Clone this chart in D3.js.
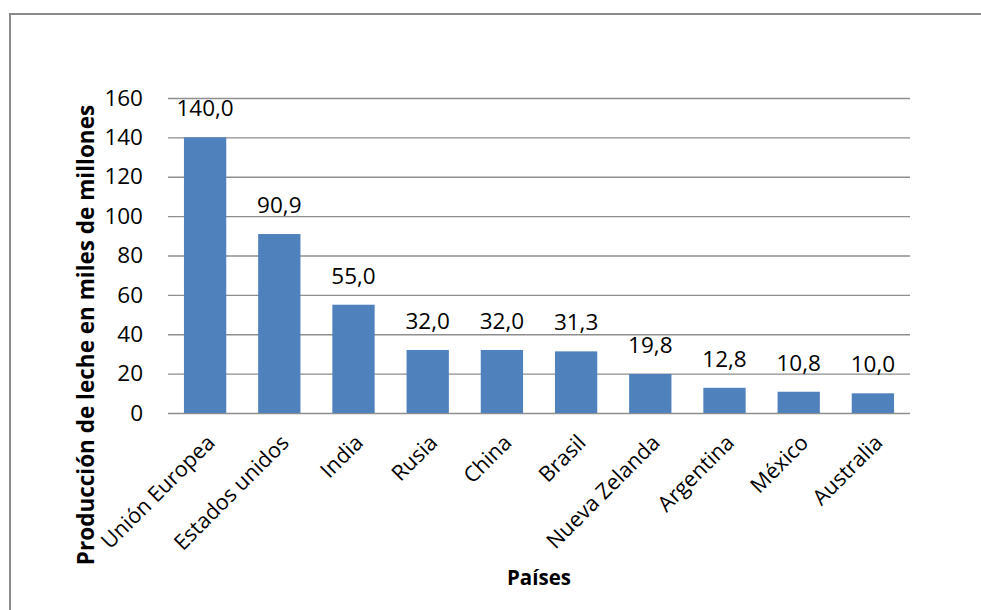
<!DOCTYPE html>
<html>
<head>
<meta charset="utf-8">
<script src="https://cdn.jsdelivr.net/npm/d3@7"></script>
<style>
  html, body { margin: 0; padding: 0; background: #fff; }
  svg { display: block; }
  text { font-family: "Open Sans", sans-serif; fill: #000; }
</style>
</head>
<body>
<script>
// Producción de leche por país (miles de millones)
const paises = ["Unión Europea", "Estados unidos", "India", "Rusia", "China",
                "Brasil", "Nueva Zelanda", "Argentina", "México", "Australia"];
const produccion = [140.0, 90.9, 55.0, 32.0, 32.0, 31.3, 19.8, 12.8, 10.8, 10.0];
const yTicks = [0, 20, 40, 60, 80, 100, 120, 140, 160];
const yTitulo = "Producción de leche en miles de millones";
const xTitulo = "Países";

const W = 981, H = 610;
const plot = { left: 168, right: 910, top: 98, bottom: 413 };

const svg = d3.select("body").append("svg")
  .attr("width", W).attr("height", H);

// chart frame (top and left edges)
svg.append("path")
  .attr("d", `M10,${H} L10,14 L${W},14`)
  .attr("fill", "none")
  .attr("stroke", "#8a8a8a")
  .attr("stroke-width", 2);

const x = d3.scaleBand()
  .domain(paises)
  .range([plot.left, plot.right])
  .paddingInner(0.43)
  .paddingOuter(0.215);

const y = d3.scaleLinear()
  .domain([0, 160])
  .range([plot.bottom, plot.top]);

const fmt = v => d3.format(".1f")(v).replace(".", ",");

// horizontal gridlines + value axis labels
const yAxis = d3.axisLeft(y)
  .tickValues(yTicks)
  .tickSize(-(plot.right - plot.left))
  .tickPadding(25)
  .tickFormat(d3.format("d"));

const gy = svg.append("g")
  .attr("transform", `translate(${plot.left},0)`)
  .call(yAxis);
gy.select(".domain").remove();
gy.selectAll(".tick line")
  .attr("stroke", "#8e8e8e")
  .attr("stroke-width", 1.3);
gy.selectAll(".tick text")
  .attr("font-size", 22.5)
  .attr("font-family", "Open Sans, sans-serif")
  .attr("fill", "#1a1a1a");

// bars
svg.append("g").selectAll("rect")
  .data(produccion)
  .join("rect")
  .attr("x", (d, i) => x(paises[i]))
  .attr("width", x.bandwidth())
  .attr("y", d => y(d))
  .attr("height", d => y(0) - y(d))
  .attr("fill", "#4F81BD");

// value labels
svg.append("g").selectAll("text")
  .data(produccion)
  .join("text")
  .attr("x", (d, i) => x(paises[i]) + x.bandwidth() / 2)
  .attr("y", d => y(d) - 21)
  .attr("text-anchor", "middle")
  .attr("font-size", 22.5)
  .attr("fill", "#1a1a1a")
  .text(d => fmt(d));

// category axis with rotated labels
const xAxis = d3.axisBottom(x).tickSize(0).tickPadding(0);
const gx = svg.append("g")
  .attr("transform", `translate(0,${plot.bottom})`)
  .call(xAxis);
gx.select(".domain").remove();
gx.selectAll(".tick text")
  .attr("font-size", 21.5)
  .attr("font-family", "Open Sans, sans-serif")
  .attr("fill", "#1a1a1a")
  .attr("text-anchor", "end")
  .attr("dy", null)
  .attr("y", null)
  .attr("transform", "translate(11,31) rotate(-45)");

// axis titles
svg.append("text")
  .attr("transform", "translate(94,335) rotate(-90)")
  .attr("text-anchor", "middle")
  .attr("font-size", 22.5)
  .attr("font-weight", "bold")
  .text(yTitulo);

svg.append("text")
  .attr("x", (plot.left + plot.right) / 2)
  .attr("y", 585)
  .attr("text-anchor", "middle")
  .attr("font-size", 20.5)
  .attr("font-weight", "bold")
  .text(xTitulo);
</script>
</body>
</html>
